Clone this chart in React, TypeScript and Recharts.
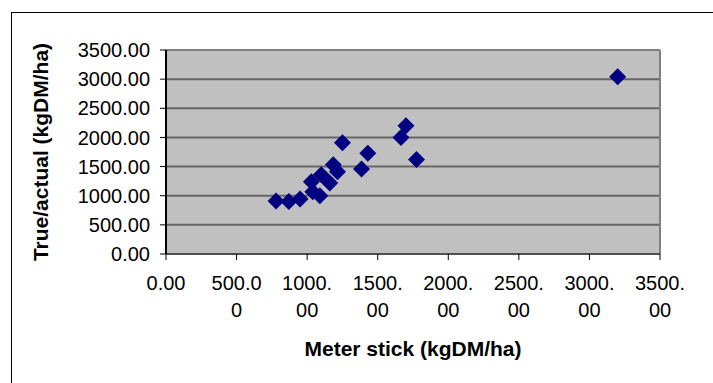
import React from "react";
import {
  ScatterChart,
  Scatter,
  XAxis,
  YAxis,
  CartesianGrid,
  ReferenceLine,
} from "recharts";

// meter stick reading vs. true/actual dry matter (kgDM/ha)
const meterStick = [
  780, 870, 950, 1030, 1040, 1090, 1100, 1160, 1185, 1215, 1250, 1385, 1430,
  1665, 1700, 1775, 3200,
];
const trueActual = [
  910, 900, 945, 1240, 1070, 1000, 1360, 1220, 1530, 1410, 1910, 1460, 1730,
  2000, 2200, 1620, 3040,
];

const xTicks = [0, 500, 1000, 1500, 2000, 2500, 3000, 3500];
const yTicks = [0, 500, 1000, 1500, 2000, 2500, 3000, 3500];

const FONT = '"Liberation Sans", Arial, sans-serif';

const points = meterStick.map((x, i) => ({ x, y: trueActual[i] }));

// Excel wraps long tick labels at a fixed width
function wrapLabel(s: string): string[] {
  const lines: string[] = [];
  for (let i = 0; i < s.length; i += 5) lines.push(s.slice(i, i + 5));
  return lines;
}

function XTick(props: any) {
  const { x, y, payload } = props;
  const lines = wrapLabel(Number(payload.value).toFixed(2));
  return (
    <text
      x={x}
      y={y}
      textAnchor="middle"
      fontFamily={FONT}
      fontSize={20}
      fill="#000"
    >
      {lines.map((line, i) => (
        <tspan key={i} x={x} dy={i === 0 ? 28 : 27}>
          {line}
        </tspan>
      ))}
    </text>
  );
}

function Diamond(props: any) {
  const { cx, cy } = props;
  const r = 8.5;
  return (
    <polygon
      points={`${cx},${cy - r} ${cx + r},${cy} ${cx},${cy + r} ${cx - r},${cy}`}
      fill="#000080"
    />
  );
}

export default function App() {
  return (
    <div
      style={{
        position: "absolute",
        left: 0,
        top: 0,
        width: 713,
        height: 383,
        overflow: "hidden",
        background: "#fff",
      }}
    >
      <div
        style={{
          position: "absolute",
          left: 11,
          top: 12,
          width: 800,
          height: 500,
          borderLeft: "1px solid #000",
          borderTop: "1px solid #000",
        }}
      />
      <div style={{ position: "absolute", left: 0, top: 0 }}>
        <ScatterChart
          width={713}
          height={383}
          margin={{ top: 50, right: 53, left: 0, bottom: 0 }}
        >
          <CartesianGrid
            horizontal
            vertical={false}
            fill="#c0c0c0"
            stroke="#666"
            strokeWidth={2}
          />
          <XAxis
            type="number"
            dataKey="x"
            domain={[0, 3500]}
            ticks={xTicks}
            interval={0}
            height={129}
            tickSize={6}
            axisLine={{ stroke: "#505050", strokeWidth: 2 }}
            tickLine={{ stroke: "#000" }}
            tick={<XTick />}
            label={{
              content: ({ viewBox }: any) => (
                <text
                  x={viewBox.x + viewBox.width / 2}
                  y={356}
                  textAnchor="middle"
                  fontFamily={FONT}
                  fontSize={21}
                  fontWeight="bold"
                  fill="#000"
                >
                  Meter stick (kgDM/ha)
                </text>
              ),
            }}
          />
          <YAxis
            type="number"
            dataKey="y"
            domain={[0, 3500]}
            ticks={yTicks}
            interval={0}
            width={166}
            tickSize={6}
            tickMargin={10}
            tickFormatter={(v: number) => v.toFixed(2)}
            tick={{ fontFamily: FONT, fontSize: 20, fill: "#000" }}
            axisLine={{ stroke: "#000", strokeWidth: 2 }}
            tickLine={{ stroke: "#000" }}
            label={{
              content: ({ viewBox }: any) => {
                const cy = viewBox.y + viewBox.height / 2;
                return (
                  <text
                    x={40}
                    y={cy}
                    transform={`rotate(-90, 40, ${cy})`}
                    textAnchor="middle"
                    dominantBaseline="central"
                    fontFamily={FONT}
                    fontSize={21}
                    fontWeight="bold"
                    fill="#000"
                  >
                    True/actual (kgDM/ha)
                  </text>
                );
              },
            }}
          />
          <ReferenceLine x={3500} stroke="#808080" strokeWidth={2} />
          <ReferenceLine y={3500} stroke="#808080" strokeWidth={2} />
          <Scatter data={points} shape={<Diamond />} isAnimationActive={false} />
        </ScatterChart>
      </div>
    </div>
  );
}
